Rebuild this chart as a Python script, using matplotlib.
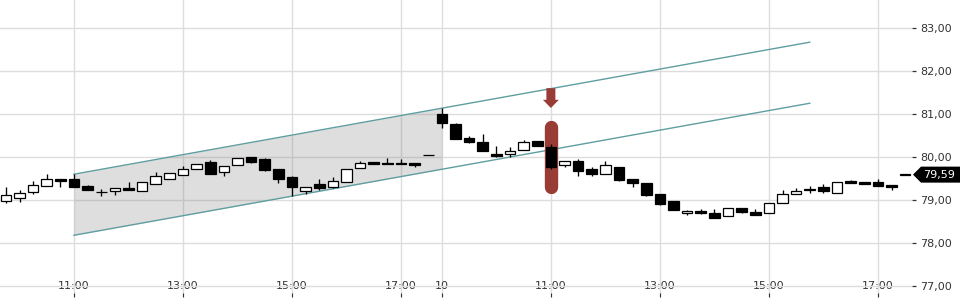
"""Intraday 15-min candles over two sessions with a drawn trend channel."""

import matplotlib
matplotlib.use("Agg")
import matplotlib.pyplot as plt
import matplotlib.transforms as mtransforms
from matplotlib.patches import Polygon, FancyArrow
from matplotlib.ticker import FuncFormatter
import numpy as np
import pandas as pd

# --- data -------------------------------------------------------------------
day1 = pd.date_range("2024-01-09 09:45", "2024-01-09 17:30", freq="15min")
day2 = pd.date_range("2024-01-10 09:00", "2024-01-10 17:30", freq="15min")
times = day1.append(day2)

opens = [78.98, 79.04, 79.18, 79.33, 79.50, 79.50, 79.33, 79.18, 79.20, 79.28,
         79.22, 79.37, 79.50, 79.57, 79.71, 79.88, 79.64, 79.81, 79.99, 79.95,
         79.71, 79.53, 79.22, 79.37, 79.31, 79.43, 79.74, 79.88, 79.87, 79.87,
         79.86, 80.04,
         80.99, 80.76, 80.44, 80.35, 80.07, 80.06, 80.16, 80.37, 80.23, 79.81,
         79.91, 79.72, 79.61, 79.76, 79.49, 79.40, 79.14, 78.98, 78.69, 78.74,
         78.70, 78.63, 78.81, 78.71, 78.69, 78.93, 79.13, 79.24, 79.31, 79.16,
         79.44, 79.43, 79.42, 79.34, 79.59]
highs = [79.30, 79.23, 79.44, 79.60, 79.50, 79.60, 79.36, 79.26, 79.27, 79.43,
         79.43, 79.64, 79.62, 79.79, 79.83, 79.93, 79.78, 79.97, 80.00, 79.97,
         79.71, 79.56, 79.31, 79.49, 79.53, 79.72, 79.91, 79.88, 79.97, 79.95,
         79.86, 80.04,
         81.13, 80.79, 80.50, 80.53, 80.26, 80.23, 80.39, 80.37, 80.30, 79.91,
         79.96, 79.76, 79.91, 79.76, 79.49, 79.40, 79.14, 78.98, 78.77, 78.78,
         78.79, 78.81, 78.81, 78.79, 78.94, 79.23, 79.27, 79.33, 79.37, 79.41,
         79.47, 79.43, 79.49, 79.34, 79.59]
lows = [78.94, 78.96, 79.13, 79.33, 79.30, 79.30, 79.23, 79.10, 79.12, 79.24,
        79.20, 79.37, 79.50, 79.57, 79.71, 79.60, 79.56, 79.81, 79.87, 79.68,
        79.39, 79.09, 79.14, 79.23, 79.27, 79.43, 79.74, 79.83, 79.83, 79.83,
        79.77, 80.04,
        80.68, 80.43, 80.33, 80.15, 79.99, 80.01, 80.16, 80.25, 79.72, 79.77,
        79.56, 79.56, 79.61, 79.45, 79.31, 79.10, 78.88, 78.77, 78.66, 78.67,
        78.59, 78.63, 78.69, 78.65, 78.69, 78.93, 79.13, 79.16, 79.16, 79.16,
        79.40, 79.38, 79.33, 79.23, 79.59]
closes = [79.12, 79.16, 79.34, 79.50, 79.45, 79.30, 79.23, 79.18, 79.27, 79.24,
          79.41, 79.55, 79.62, 79.73, 79.83, 79.60, 79.78, 79.97, 79.89, 79.70,
          79.50, 79.30, 79.31, 79.29, 79.44, 79.72, 79.85, 79.83, 79.83, 79.83,
          79.81, 80.04,
          80.80, 80.43, 80.36, 80.15, 80.03, 80.14, 80.35, 80.25, 79.77, 79.91,
          79.67, 79.61, 79.81, 79.47, 79.40, 79.12, 78.91, 78.77, 78.75, 78.70,
          78.59, 78.81, 78.73, 78.65, 78.94, 79.14, 79.20, 79.24, 79.20, 79.41,
          79.40, 79.38, 79.33, 79.30, 79.59]

# trend channel drawn between two candles, shaded up to the second session open
channel_times = [pd.Timestamp("2024-01-09 11:00"), pd.Timestamp("2024-01-10 15:45")]
channel_upper = [79.60, 82.67]
channel_lower = [78.18, 81.25]
shade_end = pd.Timestamp("2024-01-10 09:00")

# highlighted signal candle
signal_time = pd.Timestamp("2024-01-10 11:00")
signal_top, signal_bottom = 80.86, 79.14
arrow_top, arrow_bottom = 81.60, 81.14

tick_hours = [11, 13, 15, 17]
y_ticks = [77, 78, 79, 80, 81, 82, 83]

# --- plot -------------------------------------------------------------------
GRID = "#dddddd"
TEAL = "#5f9ea0"
MARK = "#993c35"
TXT = "#333333"

o, h, l, c = map(np.asarray, (opens, highs, lows, closes))
pos = np.arange(len(times)) - 5          # slot 0 == first 11:00 tick
slot = {t: p for t, p in zip(times, pos)}

fig = plt.figure(figsize=(9.6, 3.0), dpi=100)
ax = fig.add_axes([0, 0.01, 912 / 960, 0.99])

# ticks: hour marks and the start of a new day (labelled with the day number)
xt, xl = [], []
for i, t in enumerate(times):
    if i > 0 and t.date() != times[i - 1].date():
        xt.append(pos[i]); xl.append(str(t.day))
    elif t.minute == 0 and t.hour in tick_hours:
        xt.append(pos[i]); xl.append(t.strftime("%H:%M"))

ax.set_xticks(xt, xl)
ax.set_yticks(y_ticks)
ax.grid(True, color=GRID, lw=1, zorder=0)
ax.set_axisbelow(True)

# channel
cx = [slot[t] for t in channel_times]
ax.plot(cx, channel_upper, color=TEAL, lw=1, zorder=2)
ax.plot(cx, channel_lower, color=TEAL, lw=1, zorder=2)
sx = np.array([cx[0], slot[shade_end]])
ax.fill_between(sx, np.interp(sx, cx, channel_lower), np.interp(sx, cx, channel_upper),
                color="#808080", alpha=0.26, lw=0, zorder=1)

# signal marker behind its candle
sp = slot[signal_time]
cap = 6.65 / 43  # round cap radius in price units
ax.plot([sp, sp], [signal_top - cap, signal_bottom + cap], color=MARK, lw=9.6,
        solid_capstyle="round", zorder=3)
ax.add_patch(FancyArrow(sp, arrow_top, 0, arrow_bottom - arrow_top, width=0.66,
                        head_width=1.17, head_length=0.19, length_includes_head=True,
                        color=MARK, lw=0, zorder=3))

# candles
up = c >= o
ax.vlines(pos, l, h, color="black", lw=0.95, zorder=4)
body_lo = np.minimum(o, c)
body_h = np.maximum(np.abs(c - o), 0.008)
ax.bar(pos, body_h, bottom=body_lo, width=0.78,
       color=np.where(up, "white", "black"), edgecolor="black", lw=0.9, zorder=5)

ax.set_xlim(-74 / 13.625, (912 - 74) / 13.625)
ax.set_ylim(77 - 11 / 43, 77 + 286 / 43)

for s in ax.spines.values():
    s.set_visible(False)

ax.yaxis.tick_right()
ax.yaxis.set_major_formatter(FuncFormatter(lambda v, _: f"{v:.2f}".replace(".", ",")))
ax.tick_params(axis="y", direction="out", length=3.1, width=0.9, pad=3,
               colors=TXT, labelsize=8)
ax.tick_params(axis="x", direction="in", length=2.9, width=0.8, pad=-11.5,
               colors=TXT, labelsize=8)

# last-price tag
last = c[-1]
tr = mtransforms.blended_transform_factory(fig.transFigure, ax.transData)
hh = 8 / 43
tag = Polygon([(913 / 960, last), (921 / 960, last + hh), (1.0, last + hh),
               (1.0, last - hh), (921 / 960, last - hh)], closed=True,
              facecolor="black", edgecolor="none", transform=tr, clip_on=False)
fig.add_artist(tag)
fig.text(939 / 960, last, f"{last:.2f}".replace(".", ","), transform=tr,
         color="white", fontsize=8, ha="center", va="center")

fig.savefig("out.png", dpi=100)
